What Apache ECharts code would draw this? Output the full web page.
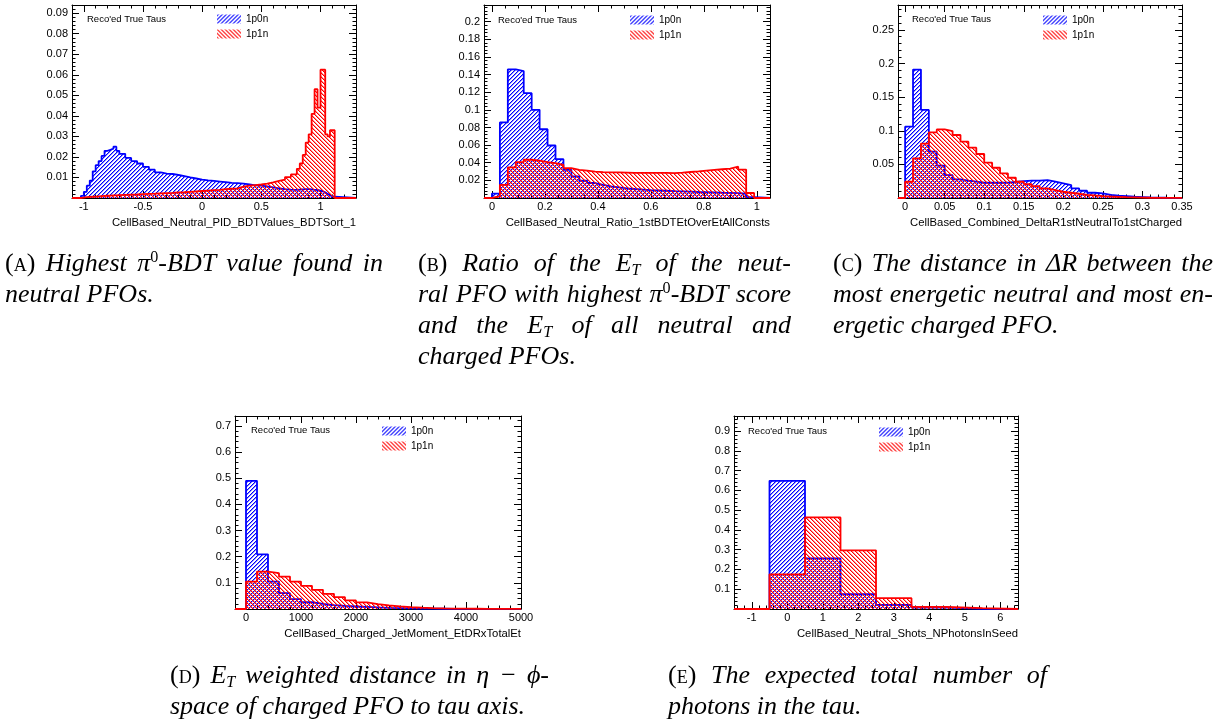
<!DOCTYPE html>
<html>
<head>
<meta charset="utf-8">
<script src="https://cdn.jsdelivr.net/npm/echarts@6/dist/echarts.min.js"></script>
<style>
  html, body { margin: 0; padding: 0; background: #fff; }
  #wrap { position: relative; width: 1227px; height: 722px; overflow: hidden; }
  #chart { position: absolute; left: 0; top: 0; width: 1227px; height: 722px; }
  .cap { position: absolute; font-family: 'Liberation Serif', 'DejaVu Serif', serif; font-style: italic;
         font-size: 26px; line-height: 31px; color: #000; z-index: 2; }
  .cap div { white-space: normal; }
  .cap .j { text-align: justify; text-align-last: justify; }
  .cap .lab { font-style: normal; font-variant: small-caps; }
  .cap sup { font-size: 0.62em; line-height: 0; vertical-align: 0.55em; font-style: normal; }
  .cap sub { font-size: 0.62em; line-height: 0; vertical-align: -0.25em; }
</style>
</head>
<body>
<div id="wrap">
  <div id="chart"></div>
  <div class="cap" style="left:5px; top:247px; width:378px;">
    <div class="j"><span class="lab">(a)</span> Highest π<sup>0</sup>-BDT value found in</div>
    <div>neutral PFOs.</div>
  </div>
  <div class="cap" style="left:418px; top:247px; width:373px;">
    <div class="j"><span class="lab">(b)</span> Ratio of the <i>E</i><sub>T</sub> of the neut-</div>
    <div class="j">ral PFO with highest π<sup>0</sup>-BDT score</div>
    <div class="j">and the <i>E</i><sub>T</sub> of all neutral and</div>
    <div>charged PFOs.</div>
  </div>
  <div class="cap" style="left:833px; top:247px; width:380px;">
    <div class="j"><span class="lab">(c)</span> The distance in Δ<i>R</i> between the</div>
    <div class="j">most energetic neutral and most en-</div>
    <div>ergetic charged PFO.</div>
  </div>
  <div class="cap" style="left:170px; top:659px; width:379px;">
    <div class="j"><span class="lab">(d)</span> <i>E</i><sub>T</sub> weighted distance in η − ϕ-</div>
    <div>space of charged PFO to tau axis.</div>
  </div>
  <div class="cap" style="left:668px; top:659px; width:379px;">
    <div class="j"><span class="lab">(e)</span> The expected total number of</div>
    <div>photons in the tau.</div>
  </div>
</div>
<script>
// ---------------- DATA ----------------
const seriesNames = ['1p0n', '1p1n'];
const noteText = "Reco'ed True Taus";

// (A) CellBased_Neutral_PID_BDTValues_BDTSort_1
const aTitle = 'CellBased_Neutral_PID_BDTValues_BDTSort_1';
const aXTicks = [-1, -0.5, 0, 0.5, 1];
const aEdges = [-1.025,-1.0,-0.975,-0.95,-0.925,-0.9,-0.875,-0.85,-0.825,-0.8,-0.775,-0.75,-0.725,-0.7,
  -0.65,-0.6,-0.55,-0.5,-0.45,-0.4,-0.35,-0.3,-0.25,-0.2,-0.15,-0.1,-0.05,0,0.05,0.1,0.15,0.2,0.25,0.3,
  0.35,0.4,0.45,0.5,0.55,0.6,0.65,0.7,0.75,0.8,0.825,0.85,0.875,0.9,0.925,0.95,0.975,1.0,1.04,1.06,1.08,1.12];
const aBlue = [0.001,0.003,0.006,0.0085,0.013,0.016,0.018,0.0205,0.023,0.0235,0.024,0.025,0.023,
  0.0215,0.0195,0.018,0.0168,0.0152,0.0138,0.0125,0.0119,0.0117,0.0112,0.0106,0.0100,0.0095,0.009,0.0086,
  0.0083,0.008,0.0077,0.0074,0.0072,0.0070,0.0066,0.0062,0.006,0.0057,0.0052,0.0047,0.0043,0.0041,0.004,
  0.0041,0.0042,0.0043,0.0043,0.0042,0.004,0.0039,0.0036,0.0028,0.002,0.0013,0.0006];
const aRed = [0.0002,0.0004,0.0005,0.0006,0.0007,0.0008,0.0009,0.001,0.0011,0.0012,0.0013,0.0013,0.0014,
  0.0015,0.0016,0.0017,0.0019,0.002,0.0021,0.0023,0.0024,0.0025,0.0027,0.0028,0.003,0.0032,0.0034,0.0036,
  0.0038,0.004,0.0043,0.0045,0.0047,0.0055,0.006,0.0063,0.0066,0.007,0.0076,0.0083,0.009,0.0102,0.0115,
  0.0142,0.0168,0.021,0.027,0.031,0.041,0.053,0.044,0.0625,0.031,0.030,0.033];

// (B) CellBased_Neutral_Ratio_1stBDTEtOverEtAllConsts
const bTitle = 'CellBased_Neutral_Ratio_1stBDTEtOverEtAllConsts';
const bXTicks = [0, 0.2, 0.4, 0.6, 0.8, 1];
const bEdges = [0,0.03,0.06,0.09,0.12,0.15,0.18,0.21,0.24,0.27,0.3,0.33,0.36,0.39,0.42,0.45,0.48,0.51,
  0.54,0.57,0.6,0.63,0.66,0.69,0.72,0.75,0.78,0.81,0.84,0.87,0.9,0.93,0.96,0.99];
const bBlue = [0.005,0.0857,0.146,0.144,0.119,0.1,0.078,0.0596,0.044,0.032,0.0245,0.0196,0.017,0.015,
  0.0132,0.012,0.011,0.0102,0.0096,0.009,0.0086,0.0082,0.0078,0.0075,0.0072,0.0068,0.0066,0.0063,0.006,
  0.0058,0.0055,0.0048,0.001];
const bRed = [0.002,0.015,0.0347,0.0408,0.0434,0.0423,0.0408,0.0396,0.0377,0.034,0.032,0.031,0.030,0.0294,
  0.029,0.029,0.0288,0.0286,0.0285,0.0284,0.0284,0.0285,0.0283,0.0288,0.0295,0.0302,0.031,0.0318,0.0326,
  0.0334,0.0355,0.0322,0.0057];

// (C) CellBased_Combined_DeltaR1stNeutralTo1stCharged
const cTitle = 'CellBased_Combined_DeltaR1stNeutralTo1stCharged';
const cXTicks = [0, 0.05, 0.1, 0.15, 0.2, 0.25, 0.3, 0.35];
const cEdges = [0,0.01,0.02,0.03,0.04,0.05,0.06,0.07,0.08,0.09,0.1,0.11,0.12,0.13,0.14,0.15,0.16,0.17,
  0.18,0.19,0.2,0.21,0.22,0.23,0.24,0.25,0.26,0.27,0.28,0.29,0.3,0.31,0.32,0.33,0.34,0.35];
const cBlue = [0.106,0.191,0.131,0.069,0.048,0.034,0.0277,0.0257,0.0242,0.0227,0.0227,0.0227,0.023,0.024,
  0.025,0.0257,0.0257,0.0267,0.0242,0.0217,0.0192,0.0143,0.0108,0.0078,0.0068,0.0048,0.0034,0.0029,0.0019,
  0.0014,0.0009,0.0006,0.0004,0.0003,0.0002];
const cRed = [0.0242,0.059,0.081,0.0977,0.102,0.0996,0.0937,0.0837,0.0748,0.0654,0.0525,0.045,0.0366,0.0301,
  0.0242,0.0207,0.0177,0.0143,0.0118,0.0093,0.0078,0.0063,0.0048,0.0038,0.0029,0.0022,0.0017,0.0012,0.0009,
  0.0006,0.0004,0.0003,0.0002,0.0002,0.0001];

// (D) CellBased_Charged_JetMoment_EtDRxTotalEt
const dTitle = 'CellBased_Charged_JetMoment_EtDRxTotalEt';
const dXTicks = [0, 1000, 2000, 3000, 4000, 5000];
const dEdges = [0,200,400,600,800,1000,1200,1400,1600,1800,2000,2200,2400,2600,2800,3000,3200,3400,3600,
  3800,4000,4200,4400,4600,4800,5000];
const dBlue = [0.49,0.209,0.105,0.0606,0.038,0.026,0.02,0.015,0.012,0.01,0.008,0.006,0.0045,0.0035,0.0025,
  0.0018,0.0012,0.0009,0.0007,0.0005,0.0004,0.0003,0.0002,0.0002,0.0001];
const dRed = [0.105,0.143,0.137,0.124,0.105,0.0886,0.0733,0.058,0.0454,0.0327,0.025,0.0187,0.0136,0.0098,
  0.0072,0.005,0.0035,0.0025,0.0018,0.0013,0.001,0.0007,0.0005,0.0004,0.0003];

// (E) CellBased_Neutral_Shots_NPhotonsInSeed
const eTitle = 'CellBased_Neutral_Shots_NPhotonsInSeed';
const eXTicks = [-1, 0, 1, 2, 3, 4, 5, 6];
const eEdges = [-0.5, 0.5, 1.5, 2.5, 3.5, 4.5, 5.5];
const eBlue = [0.648, 0.256, 0.0748, 0.021, 0.007, 0.001];
const eRed = [0.1756, 0.463, 0.2966, 0.0546, 0.011, 0.004];

// ---------------- LAYOUT / STYLE ----------------
const FONT = "'Liberation Sans', Arial, Helvetica, sans-serif";
const BLUE = '#0000ff', RED = '#ff0000';

function hatch(color, forward) {
  const s = 8, p = 4, c = document.createElement('canvas');
  c.width = s; c.height = s;
  const g = c.getContext('2d');
  g.fillStyle = color;
  for (let y = 0; y < s; y++) for (let x = 0; x < s; x++) {
    const k = (forward ? (x + y) : (x - y + s)) % p;
    if (k === 0) { g.globalAlpha = 1; g.fillRect(x, y, 1, 1); }
    else if (k === 1) { g.globalAlpha = 0.45; g.fillRect(x, y, 1, 1); }
  }
  return { image: c, repeat: 'repeat' };
}
const bluePat = hatch(BLUE, true);
const redPat = hatch(RED, false);

function range(start, end, step) {
  const out = [];
  const n = Math.round((end - start) / step);
  for (let i = 0; i <= n; i++) out.push(Math.round((start + i * step) * 1e6) / 1e6);
  return out;
}

const panels = [
  { rect: [72, 5, 284, 193], xmin: -1.1, xmax: 1.3, majors: aXTicks, minors: range(-1.1, 1.3, 0.1),
    ymax: 0.094, ystep: 0.01, title: aTitle, edges: aEdges, blue: aBlue, red: aRed, leg: [217, 14], note: [87, 19] },
  { rect: [484, 5, 286, 193], xmin: -0.03, xmax: 1.05, majors: bXTicks, minors: range(0, 1.05, 0.05),
    ymax: 0.219, ystep: 0.02, title: bTitle, edges: bEdges, blue: bBlue, red: bRed, leg: [630, 15], note: [498, 20] },
  { rect: [898, 5, 284, 193], xmin: -0.009, xmax: 0.35, majors: cXTicks, minors: range(0, 0.35, 0.01),
    ymax: 0.287, ystep: 0.05, title: cTitle, edges: cEdges, blue: cBlue, red: cRed, leg: [1043, 15], note: [912, 19] },
  { rect: [235, 416, 286, 193], xmin: -200, xmax: 5000, majors: dXTicks, minors: range(-200, 5000, 200),
    ymax: 0.738, ystep: 0.1, title: dTitle, edges: dEdges, blue: dBlue, red: dRed, leg: [382, 426], note: [251, 430] },
  { rect: [734, 416, 284, 193], xmin: -1.5, xmax: 6.5, majors: eXTicks, minors: range(-1.4, 6.4, 0.2),
    ymax: 0.976, ystep: 0.1, title: eTitle, edges: eEdges, blue: eBlue, red: eRed, leg: [879, 427], note: [748, 431] }
];

function hist(edges, vals, xmin, xmax) {
  const pts = [[xmin, 0]];
  for (let i = 0; i < vals.length; i++) pts.push([edges[i], vals[i]]);
  pts.push([edges[vals.length], 0]);
  pts.push([xmax, 0]);
  return pts;
}

const grid = [], xAxis = [], yAxis = [], series = [], legend = [], graphic = [];
const black = { color: '#000', width: 1 };

panels.forEach((p, i) => {
  const [l, t, w, h] = p.rect;
  const g0 = 2 * i, g1 = 2 * i + 1;
  grid.push({ left: l, top: t, width: w, height: h, containLabel: false, outerBoundsMode: 'none' });
  grid.push({ left: l, top: t, width: w, height: h, containLabel: false, outerBoundsMode: 'none' });

  const xBase = { type: 'value', min: p.xmin, max: p.xmax, splitLine: { show: false }, silent: true };
  const mainX = xAxis.length;
  xAxis.push(Object.assign({}, xBase, {
    gridIndex: g0, position: 'bottom',
    axisLine: { show: true, onZero: false, lineStyle: black },
    axisTick: { show: true, inside: true, length: 7, customValues: p.majors, lineStyle: black },
    axisLabel: { show: true, customValues: p.majors, formatter: v => String(v), margin: 3,
                 fontSize: 11, color: '#000', fontFamily: FONT },
    name: p.title, nameLocation: 'end', nameGap: 0, nameMoveOverlap: false,
    nameTextStyle: { align: 'right', verticalAlign: 'top', padding: [19, 0, 0, 0],
                     fontSize: 11.3, color: '#000', fontFamily: FONT }
  }));
  xAxis.push(Object.assign({}, xBase, {
    gridIndex: g0, position: 'top',
    axisLine: { show: true, onZero: false, lineStyle: black },
    axisTick: { show: true, inside: true, length: 7, customValues: p.majors, lineStyle: black },
    axisLabel: { show: false }
  }));
  xAxis.push(Object.assign({}, xBase, {
    gridIndex: g1, position: 'bottom',
    axisLine: { show: false, onZero: false },
    axisTick: { show: true, inside: true, length: 3.5, customValues: p.minors, lineStyle: black },
    axisLabel: { show: false }
  }));
  xAxis.push(Object.assign({}, xBase, {
    gridIndex: g1, position: 'top',
    axisLine: { show: false, onZero: false },
    axisTick: { show: true, inside: true, length: 3.5, customValues: p.minors, lineStyle: black },
    axisLabel: { show: false }
  }));

  const yBase = { type: 'value', min: 0, max: p.ymax, interval: p.ystep, splitLine: { show: false },
                  minorSplitLine: { show: false }, silent: true };
  const mainY = yAxis.length;
  yAxis.push(Object.assign({}, yBase, {
    gridIndex: g0, position: 'left',
    axisLine: { show: true, onZero: false, lineStyle: black },
    axisTick: { show: true, inside: true, length: 7, lineStyle: black },
    minorTick: { show: true, splitNumber: 5, length: 3.5, lineStyle: black },
    axisLabel: { show: true, showMinLabel: false, showMaxLabel: false, margin: 4,
                 fontSize: 11, color: '#000', fontFamily: FONT }
  }));
  yAxis.push(Object.assign({}, yBase, {
    gridIndex: g0, position: 'right',
    axisLine: { show: true, onZero: false, lineStyle: black },
    axisTick: { show: true, inside: true, length: 7, lineStyle: black },
    minorTick: { show: true, splitNumber: 5, length: 3.5, lineStyle: black },
    axisLabel: { show: false }
  }));
  yAxis.push(Object.assign({}, yBase, {
    gridIndex: g1, show: false, axisLine: { show: false, onZero: false }
  }));

  series.push({
    type: 'line', name: seriesNames[0], xAxisIndex: mainX, yAxisIndex: mainY, step: 'end',
    symbol: 'none', silent: true, z: 2, data: hist(p.edges, p.blue, p.xmin, p.xmax),
    lineStyle: { color: BLUE, width: 1.8 }, itemStyle: { color: BLUE },
    areaStyle: { color: bluePat, opacity: 1 }
  });
  series.push({
    type: 'line', name: seriesNames[1], xAxisIndex: mainX, yAxisIndex: mainY, step: 'end',
    symbol: 'none', silent: true, z: 3, data: hist(p.edges, p.red, p.xmin, p.xmax),
    lineStyle: { color: RED, width: 1.8 }, itemStyle: { color: RED },
    areaStyle: { color: redPat, opacity: 1 }
  });

  legend.push({
    left: p.leg[0], top: p.leg[1], orient: 'vertical', padding: 0, itemGap: 5,
    itemWidth: 24, itemHeight: 9, selectedMode: false,
    textStyle: { fontSize: 10, color: '#000', fontFamily: FONT },
    data: [
      { name: seriesNames[0], icon: 'rect', itemStyle: { color: bluePat, borderWidth: 0 } },
      { name: seriesNames[1], icon: 'rect', itemStyle: { color: redPat, borderWidth: 0 } }
    ]
  });

  graphic.push({
    type: 'text', x: p.note[0], y: p.note[1], silent: true,
    style: { text: noteText, fontSize: 9.5, fontFamily: FONT, fill: '#000', verticalAlign: 'middle' }
  });
});

const chart = echarts.init(document.getElementById('chart'), null, { renderer: 'canvas' });
chart.setOption({
  backgroundColor: '#fff',
  animation: false,
  grid, xAxis, yAxis, series, legend, graphic
});
</script>
</body>
</html>
